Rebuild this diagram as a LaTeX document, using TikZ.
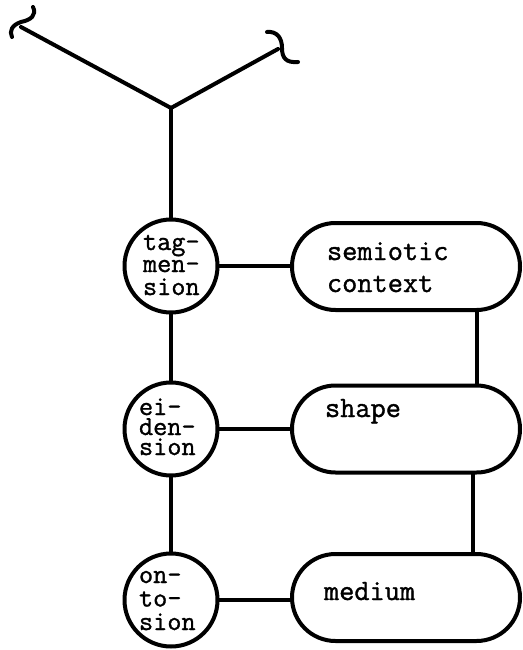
\documentclass[tikz,border=0pt]{standalone}
\usepackage{fontspec}
\newfontfamily\typew[FakeBold=1.2]{Latin Modern Mono}
\begin{document}
\begin{tikzpicture}[x=1pt,y=-1pt,
  every path/.style={line width=4pt,line cap=round,line join=round},
  circ/.style={draw,circle,minimum size=93pt,inner sep=0pt},
  pill/.style={draw,rectangle,rounded corners=43.5pt,minimum width=228pt,minimum height=87pt,inner sep=0pt},
  ctext/.style={anchor=base west,align=left,inner sep=0pt,font=\typew\fontsize{27.5}{22}\selectfont},
  btext/.style={anchor=base west,align=left,inner sep=0pt,font=\typew\fontsize{29.5}{32}\selectfont}]
\useasboundingbox (0,0) rectangle (522,650);
% top fork
\coordinate (j) at (171,108);
\coordinate (la) at (21,27);
\coordinate (ra) at (278,49);
\draw (j) -- (la);
\draw (j) -- (ra);
\draw (33,7) .. controls (37,15) and (31,20) .. (21,22) .. controls (12,25) and (9,31) .. (12,37);
\draw (267,32) .. controls (277,31) and (282,38) .. (282,48) .. controls (282,58) and (286,63) .. (298,62);
% circles
\node[circ] (tag) at (171,266) {};
\node[circ] (ei) at (171,429) {};
\node[circ] (on) at (171,600) {};
\node[ctext] (tagt) at (141,295) {tag-\\men-\\[1pt]sion};
\node[ctext,font=\typew\fontsize{27.5}{20}\selectfont] (eit) at (137,455) {ei-\\den-\\sion};
\node[ctext,font=\typew\fontsize{27.5}{23.5}\selectfont] (ont) at (137,630) {on-\\to-\\sion};
% boxes
\node[pill] (sem) at (406,266.5) {};
\node[pill] (shp) at (406,429) {};
\node[pill] (med) at (406,597.5) {};
\node[btext] (semt) at (325,292) {semiotic\\context};
\node[btext] (shpt) at (323,417) {shape};
\node[btext] (medt) at (322,600) {medium};
% connectors
\draw (j) -- (tag.north);
\draw (tag.south) -- (ei.north);
\draw (ei.south) -- (on.north);
\draw (tag.east) -- (tag.east -| sem.west);
\draw (ei.east) -- (ei.east -| shp.west);
\draw (on.east) -- (on.east -| med.west);
\draw ([xshift=71pt]sem.south) -- ([xshift=71pt]shp.north);
\draw ([xshift=67pt]shp.south) -- ([xshift=67pt]med.north);
\end{tikzpicture}
\end{document}
